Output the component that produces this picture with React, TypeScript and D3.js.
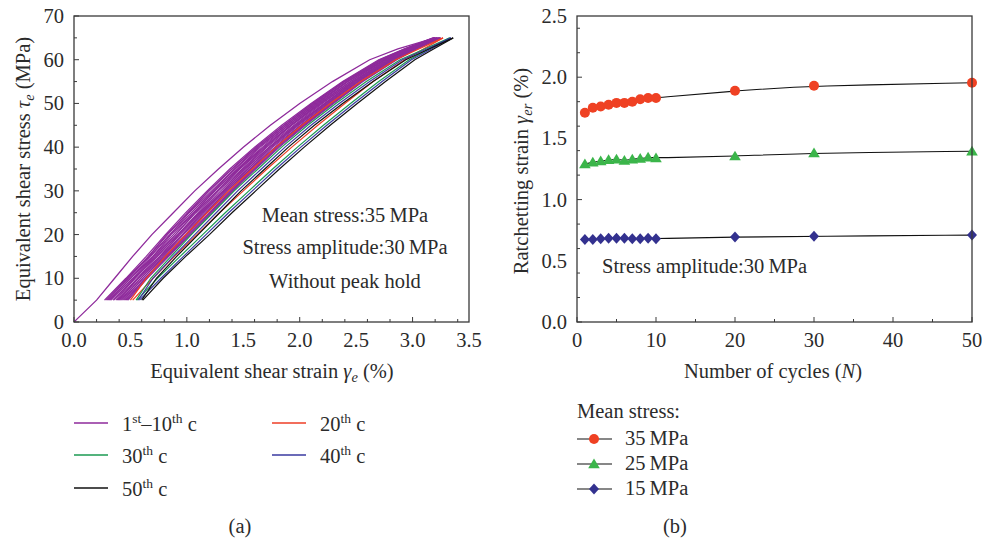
import React from 'react';
import * as d3 from 'd3';

// ---------- Panel (a) data ----------
const STRESS_LEVELS = [5, 10, 15, 20, 25, 30, 35, 40, 45, 50, 55, 60, 62.5, 65];
const FIRST_LOAD_STRESS = [0, 1, 5, 10, 15, 20, 25, 30, 35, 40, 45, 50, 55, 60, 62.5, 65];
const FIRST_LOAD_STRAIN = [0, 0.04, 0.2, 0.36, 0.52, 0.69, 0.88, 1.07, 1.28, 1.5, 1.74, 2.0, 2.29, 2.62, 2.87, 3.2];

const PURPLE_STRAINS = [
  [0.27, 0.46, 0.64, 0.81, 0.99, 1.18, 1.38, 1.6, 1.84, 2.1, 2.38, 2.7, 2.93, 3.18],
  [0.28, 0.47, 0.66, 0.82, 1.01, 1.19, 1.4, 1.61, 1.86, 2.11, 2.39, 2.71, 2.93, 3.19],
  [0.29, 0.48, 0.66, 0.83, 1.01, 1.2, 1.4, 1.62, 1.86, 2.12, 2.4, 2.72, 2.94, 3.19],
  [0.3, 0.48, 0.67, 0.85, 1.02, 1.22, 1.42, 1.63, 1.88, 2.13, 2.4, 2.73, 2.95, 3.2],
  [0.31, 0.5, 0.68, 0.85, 1.04, 1.23, 1.43, 1.64, 1.88, 2.14, 2.42, 2.73, 2.95, 3.19],
  [0.32, 0.5, 0.7, 0.86, 1.06, 1.24, 1.45, 1.65, 1.9, 2.15, 2.42, 2.75, 2.96, 3.2],
  [0.33, 0.52, 0.7, 0.88, 1.06, 1.25, 1.45, 1.67, 1.9, 2.16, 2.43, 2.75, 2.96, 3.2],
  [0.35, 0.53, 0.71, 0.9, 1.07, 1.27, 1.46, 1.68, 1.92, 2.17, 2.45, 2.75, 2.97, 3.21],
  [0.35, 0.54, 0.72, 0.9, 1.08, 1.27, 1.47, 1.69, 1.92, 2.18, 2.45, 2.76, 2.97, 3.21],
  [0.37, 0.54, 0.73, 0.92, 1.1, 1.28, 1.49, 1.7, 1.93, 2.19, 2.47, 2.77, 2.98, 3.22],
  [0.38, 0.56, 0.74, 0.92, 1.11, 1.3, 1.5, 1.71, 1.95, 2.2, 2.47, 2.78, 2.99, 3.22],
  [0.39, 0.57, 0.76, 0.93, 1.12, 1.32, 1.51, 1.73, 1.96, 2.22, 2.48, 2.79, 3.0, 3.22],
  [0.4, 0.57, 0.76, 0.94, 1.13, 1.32, 1.52, 1.73, 1.97, 2.22, 2.49, 2.8, 3.0, 3.22],
  [0.41, 0.59, 0.77, 0.96, 1.14, 1.33, 1.54, 1.74, 1.98, 2.23, 2.5, 2.81, 3.0, 3.23],
  [0.42, 0.59, 0.78, 0.96, 1.15, 1.34, 1.54, 1.75, 1.99, 2.24, 2.51, 2.81, 3.01, 3.23],
  [0.43, 0.61, 0.79, 0.97, 1.17, 1.35, 1.56, 1.76, 2.01, 2.25, 2.52, 2.82, 3.02, 3.24],
  [0.44, 0.61, 0.8, 0.99, 1.17, 1.36, 1.56, 1.78, 2.01, 2.26, 2.52, 2.83, 3.02, 3.24],
  [0.45, 0.63, 0.81, 1.0, 1.18, 1.38, 1.57, 1.79, 2.03, 2.27, 2.54, 2.84, 3.03, 3.24],
  [0.46, 0.63, 0.82, 1.01, 1.2, 1.39, 1.59, 1.8, 2.03, 2.28, 2.54, 2.84, 3.03, 3.24],
  [0.47, 0.64, 0.83, 1.02, 1.21, 1.4, 1.6, 1.81, 2.04, 2.29, 2.55, 2.85, 3.04, 3.25],
  [0.48, 0.65, 0.84, 1.03, 1.22, 1.41, 1.61, 1.82, 2.05, 2.3, 2.56, 2.86, 3.04, 3.25],
];

const CYCLE20_STRAINS = [
  [0.5, 0.64, 0.81, 0.99, 1.18, 1.37, 1.58, 1.79, 2.02, 2.27, 2.54, 2.85, 3.06, 3.27],
  [0.52, 0.7, 0.89, 1.09, 1.29, 1.5, 1.71, 1.93, 2.16, 2.4, 2.65, 2.93, 3.1, 3.27],
];
const CYCLE30_STRAINS = [
  [0.55, 0.68, 0.86, 1.04, 1.23, 1.42, 1.63, 1.84, 2.07, 2.32, 2.59, 2.89, 3.11, 3.33],
  [0.56, 0.74, 0.94, 1.14, 1.34, 1.55, 1.76, 1.98, 2.21, 2.45, 2.7, 2.97, 3.15, 3.33],
];
const CYCLE40_STRAINS = [
  [0.57, 0.7, 0.88, 1.07, 1.26, 1.45, 1.66, 1.87, 2.1, 2.35, 2.62, 2.91, 3.13, 3.34],
  [0.58, 0.77, 0.97, 1.17, 1.37, 1.58, 1.79, 2.01, 2.24, 2.48, 2.73, 2.99, 3.17, 3.34],
];
const CYCLE50_STRAINS = [
  [0.6, 0.73, 0.91, 1.1, 1.29, 1.48, 1.69, 1.9, 2.13, 2.38, 2.65, 2.94, 3.15, 3.36],
  [0.61, 0.79, 0.99, 1.2, 1.4, 1.61, 1.82, 2.04, 2.27, 2.51, 2.76, 3.02, 3.19, 3.36],
];

// ---------- Panel (b) data ----------
const CYCLES = [1, 2, 3, 4, 5, 6, 7, 8, 9, 10, 20, 30, 50];
const MEAN35 = [1.71, 1.75, 1.76, 1.775, 1.79, 1.79, 1.8, 1.82, 1.83, 1.83, 1.89, 1.93, 1.955];
const MEAN25 = [1.29, 1.305, 1.315, 1.325, 1.33, 1.32, 1.33, 1.335, 1.345, 1.34, 1.355, 1.38, 1.395];
const MEAN15 = [0.675, 0.675, 0.68, 0.685, 0.685, 0.685, 0.68, 0.68, 0.685, 0.68, 0.695, 0.7, 0.71];

const FONT = '"Liberation Serif", "Times New Roman", serif';
const FS = 20.5;
const TXT = '#2b2b2b';
const AX = '#3a3a3a';

const PURPLE = '#8e2a9b';
const RED = '#ee3e26';
const GREEN = '#1b9a52';
const BLUE = '#3a3aa0';
const BLACK = '#111111';

const M_RED = '#ef4123';
const M_GREEN = '#3bb54a';
const M_BLUE = '#33318f';

// layout
const L = { x0: 74, x1: 469, y0: 322, y1: 16 };
const R = { x0: 577, x1: 972, y0: 322, y1: 16 };

export default function App() {
  const xA = d3.scaleLinear().domain([0, 3.5]).range([L.x0, L.x1]);
  const yA = d3.scaleLinear().domain([0, 70]).range([L.y0, L.y1]);
  const xB = d3.scaleLinear().domain([0, 50]).range([R.x0, R.x1]);
  const yB = d3.scaleLinear().domain([0, 2.5]).range([R.y0, R.y1]);

  const lineA = d3
    .line<[number, number]>()
    .x((d) => xA(d[0]))
    .y((d) => yA(d[1]));

  const branch = (strains: number[]) =>
    lineA(strains.map((s, i) => [s, STRESS_LEVELS[i]] as [number, number])) || '';

  const firstLoad =
    lineA(FIRST_LOAD_STRAIN.map((s, i) => [s, FIRST_LOAD_STRESS[i]] as [number, number])) || '';

  const lineB = d3
    .line<[number, number]>()
    .x((d) => xB(d[0]))
    .y((d) => yB(d[1]))
    .curve(d3.curveBasis);

  const series = [
    { vals: MEAN35, color: M_RED, shape: 'circle', label: '35\u2009MPa' },
    { vals: MEAN25, color: M_GREEN, shape: 'triangle', label: '25\u2009MPa' },
    { vals: MEAN15, color: M_BLUE, shape: 'diamond', label: '15\u2009MPa' },
  ];

  const marker = (shape: string, cx: number, cy: number, color: string, key: string) => {
    if (shape === 'circle') return <circle key={key} cx={cx} cy={cy} r={5} fill={color} />;
    if (shape === 'triangle')
      return (
        <path
          key={key}
          d={`M${cx},${cy - 5.5} L${cx + 5.8},${cy + 4.2} L${cx - 5.8},${cy + 4.2} Z`}
          fill={color}
        />
      );
    return (
      <path
        key={key}
        d={`M${cx},${cy - 5.5} L${cx + 5},${cy} L${cx},${cy + 5.5} L${cx - 5},${cy} Z`}
        fill={color}
      />
    );
  };

  const xAMajor = xA.ticks(7);
  const xAMinor = xA.ticks(14);
  const yAMajor = yA.ticks(7);
  const yAMinor = yA.ticks(14);
  const xBMajor = xB.ticks(5);
  const xBMinor = xB.ticks(10);
  const yBMajor = yB.ticks(5);
  const yBMinor = yB.ticks(10);

  const fmt1 = d3.format('.1f');

  const colored = [
    { data: CYCLE20_STRAINS, color: RED },
    { data: CYCLE30_STRAINS, color: GREEN },
    { data: CYCLE40_STRAINS, color: BLUE },
    { data: CYCLE50_STRAINS, color: BLACK },
  ];

  const legendA = [
    { x: 74, y: 423, color: PURPLE, main: '1', sup: 'st', mid: '\u201310', sup2: 'th' },
    { x: 74, y: 455, color: GREEN, main: '30', sup: 'th' },
    { x: 74, y: 488, color: BLACK, main: '50', sup: 'th' },
    { x: 272, y: 423, color: RED, main: '20', sup: 'th' },
    { x: 272, y: 455, color: BLUE, main: '40', sup: 'th' },
  ];

  return (
    <svg
      width={982}
      height={541}
      style={{ position: 'absolute', left: 0, top: 0, background: '#fff' }}
      fontFamily={FONT}
    >
      <rect x={0} y={0} width={982} height={541} fill="#fff" />

      {/* ================= Panel (a) ================= */}
      <g>
        {PURPLE_STRAINS.map((s, i) => (
          <path key={'p' + i} d={branch(s)} fill="none" stroke={PURPLE} strokeWidth={1.2} />
        ))}
        <path d={firstLoad} fill="none" stroke={PURPLE} strokeWidth={1.3} />
        {colored.map((c, ci) =>
          c.data.map((s, i) => (
            <path key={'c' + ci + '_' + i} d={branch(s)} fill="none" stroke={c.color} strokeWidth={1.2} />
          ))
        )}

        {/* frame */}
        <rect x={L.x0} y={L.y1} width={L.x1 - L.x0} height={L.y0 - L.y1} fill="none" stroke={AX} strokeWidth={1.3} />
        {xAMinor.map((t) => (
          <line key={'xam' + t} x1={xA(t)} x2={xA(t)} y1={L.y0} y2={L.y0 - (xAMajor.includes(t) ? 5 : 3)} stroke={AX} strokeWidth={1} />
        ))}
        {yAMinor.map((t) => (
          <line key={'yam' + t} x1={L.x0} x2={L.x0 + (yAMajor.includes(t) ? 5 : 3)} y1={yA(t)} y2={yA(t)} stroke={AX} strokeWidth={1} />
        ))}
        {xAMajor.map((t) => (
          <text key={'xal' + t} x={xA(t)} y={347} textAnchor="middle" fontSize={FS} fill={TXT}>
            {fmt1(t)}
          </text>
        ))}
        {yAMajor.map((t) => (
          <text key={'yal' + t} x={64} y={yA(t) + 7} textAnchor="end" fontSize={FS} fill={TXT}>
            {t}
          </text>
        ))}

        <text x={272} y={378} textAnchor="middle" fontSize={FS} fill={TXT}>
          Equivalent shear strain <tspan fontStyle="italic">γ</tspan>
          <tspan fontStyle="italic" fontSize={14.5} dy={4}>e</tspan>
          <tspan dy={-4}> (%)</tspan>
        </text>
        <text transform="translate(30,169) rotate(-90)" textAnchor="middle" fontSize={FS} fill={TXT}>
          Equivalent shear stress <tspan fontStyle="italic">τ</tspan>
          <tspan fontStyle="italic" fontSize={14.5} dy={4}>e</tspan>
          <tspan dy={-4}> (MPa)</tspan>
        </text>

        <text x={345} y={222} textAnchor="middle" fontSize={FS} fill={TXT}>Mean stress:35{'\u2009'}MPa</text>
        <text x={345} y={254} textAnchor="middle" fontSize={FS} fill={TXT}>Stress amplitude:30{'\u2009'}MPa</text>
        <text x={345} y={288} textAnchor="middle" fontSize={FS} fill={TXT}>Without peak hold</text>

        {legendA.map((lg, i) => (
          <g key={'la' + i}>
            <line x1={lg.x} x2={lg.x + 34} y1={lg.y} y2={lg.y} stroke={lg.color} strokeWidth={1.5} />
            <text x={lg.x + 48} y={lg.y + 8} fontSize={FS} fill={TXT}>
              {lg.main}
              <tspan fontSize={13.5} dy={-8}>{lg.sup}</tspan>
              {lg.mid ? (
                <>
                  <tspan dy={8}>{lg.mid}</tspan>
                  <tspan fontSize={13.5} dy={-8}>{lg.sup2}</tspan>
                </>
              ) : null}
              <tspan dy={8}> c</tspan>
            </text>
          </g>
        ))}
        <text x={240} y={533} textAnchor="middle" fontSize={FS} fill={TXT}>(a)</text>
      </g>

      {/* ================= Panel (b) ================= */}
      <g>
        {series.map((s, si) => (
          <path
            key={'lb' + si}
            d={lineB(s.vals.map((v, i) => [CYCLES[i], v] as [number, number])) || ''}
            fill="none"
            stroke={BLACK}
            strokeWidth={1.1}
          />
        ))}
        {series.map((s, si) =>
          s.vals.map((v, i) => marker(s.shape, xB(CYCLES[i]), yB(v), s.color, 'm' + si + '_' + i))
        )}

        <rect x={R.x0} y={R.y1} width={R.x1 - R.x0} height={R.y0 - R.y1} fill="none" stroke={AX} strokeWidth={1.3} />
        {xBMinor.map((t) => (
          <line key={'xbm' + t} x1={xB(t)} x2={xB(t)} y1={R.y0} y2={R.y0 - (xBMajor.includes(t) ? 5 : 3)} stroke={AX} strokeWidth={1} />
        ))}
        {yBMinor.map((t) => (
          <line key={'ybm' + t} x1={R.x0} x2={R.x0 + (yBMajor.includes(t) ? 5 : 3)} y1={yB(t)} y2={yB(t)} stroke={AX} strokeWidth={1} />
        ))}
        {xBMajor.map((t) => (
          <text key={'xbl' + t} x={xB(t)} y={347} textAnchor="middle" fontSize={FS} fill={TXT}>
            {t}
          </text>
        ))}
        {yBMajor.map((t) => (
          <text key={'ybl' + t} x={567} y={yB(t) + 7} textAnchor="end" fontSize={FS} fill={TXT}>
            {fmt1(t)}
          </text>
        ))}

        <text x={773} y={378} textAnchor="middle" fontSize={FS} fill={TXT}>
          Number of cycles (<tspan fontStyle="italic">N</tspan>)
        </text>
        <text transform="translate(528,171) rotate(-90)" textAnchor="middle" fontSize={FS} fill={TXT}>
          Ratchetting strain <tspan fontStyle="italic">γ</tspan>
          <tspan fontStyle="italic" fontSize={14.5} dy={4}>er</tspan>
          <tspan dy={-4}> (%)</tspan>
        </text>

        <text x={602} y={273} fontSize={FS} fill={TXT}>Stress amplitude:30{'\u2009'}MPa</text>

        <text x={577} y={418} fontSize={FS} fill={TXT}>Mean stress:</text>
        {series.map((s, si) => {
          const ly = 439 + si * 25;
          return (
            <g key={'lgb' + si}>
              <line x1={577} x2={612} y1={ly} y2={ly} stroke={BLACK} strokeWidth={1.1} />
              {marker(s.shape, 594, ly, s.color, 'lm' + si)}
              <text x={625} y={ly + 6} fontSize={FS} fill={TXT}>{s.label}</text>
            </g>
          );
        })}
        <text x={675} y={533} textAnchor="middle" fontSize={FS} fill={TXT}>(b)</text>
      </g>
    </svg>
  );
}
